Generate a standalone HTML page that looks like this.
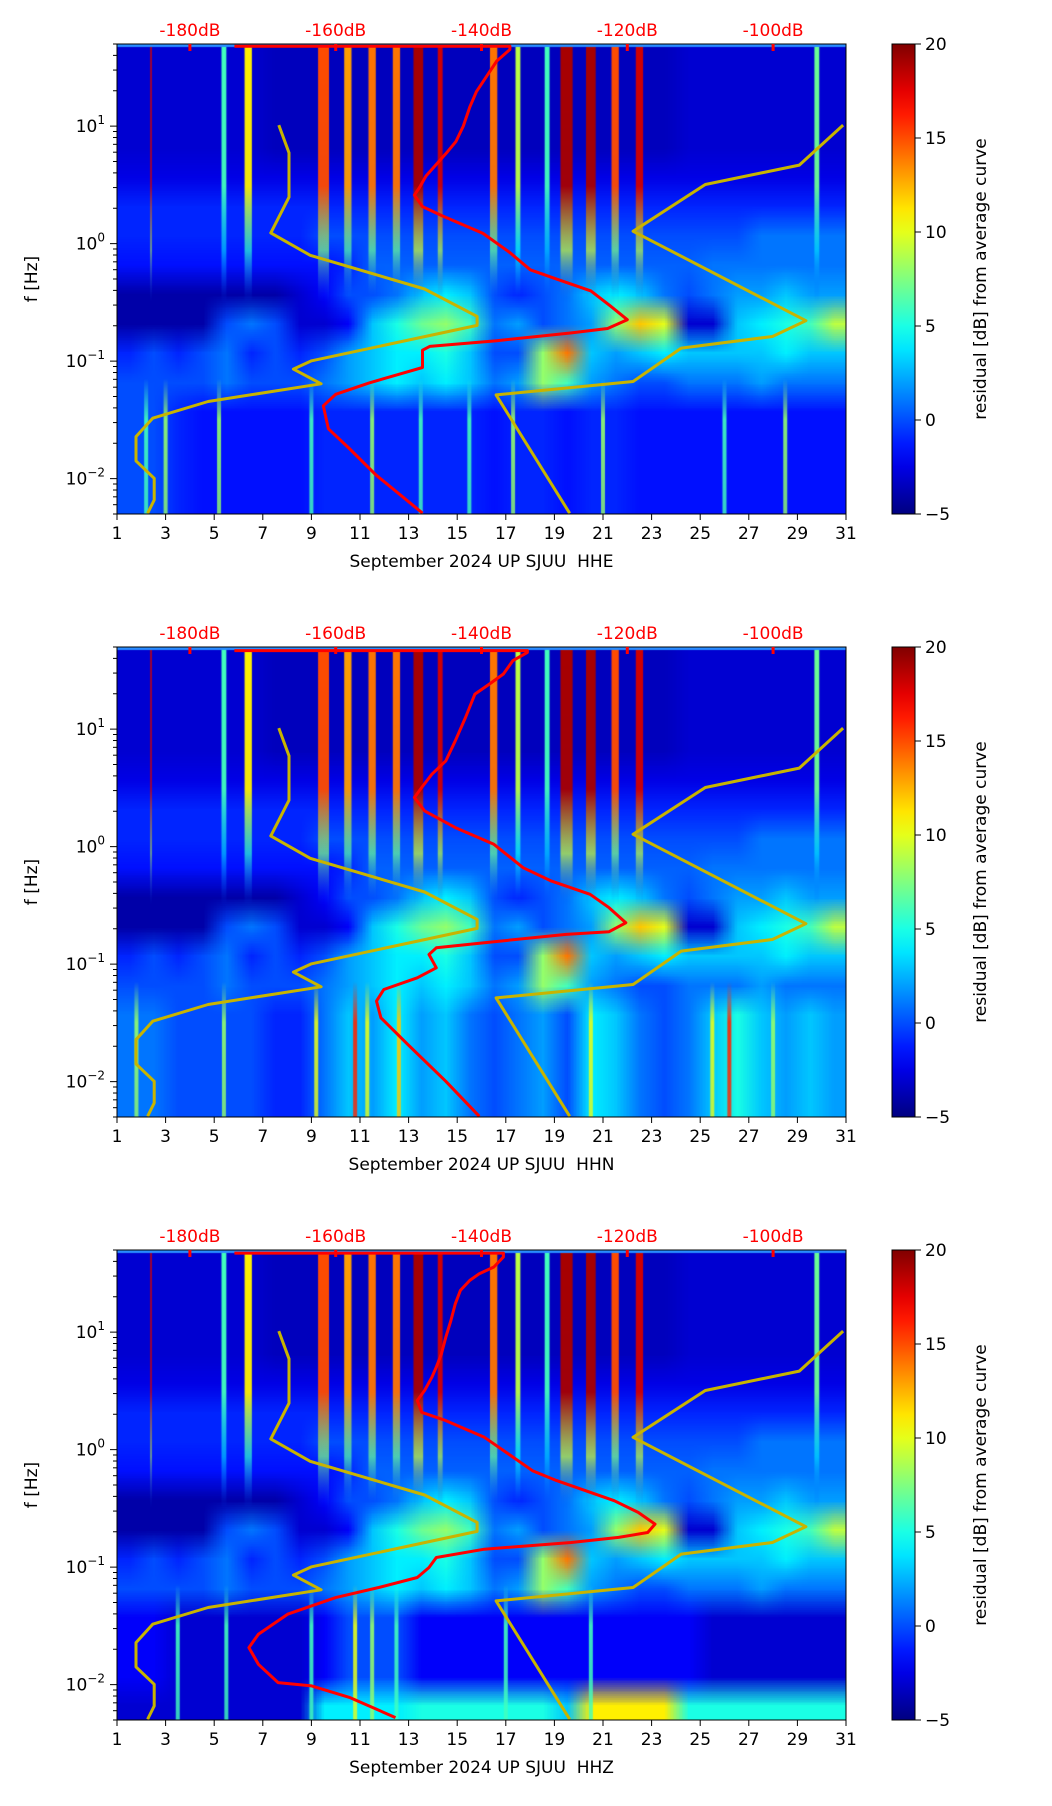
<!DOCTYPE html>
<html><head><meta charset="utf-8">
<style>
html,body{margin:0;padding:0;background:#fff;}
body{width:1052px;height:1806px;position:relative;overflow:hidden;font-family:"DejaVu Sans","Liberation Sans",sans-serif;}
.panel{position:absolute;left:0;width:1052px;height:603px;}
canvas{position:absolute;}
svg{position:absolute;left:0;top:0;}
svg text{font-family:"DejaVu Sans","Liberation Sans",sans-serif;white-space:pre;}
</style></head>
<body>
<div id="root"></div>
<script>
// ---- Data ----
const nlnmDb=[-167.8,-166.4,-166.4,-168.9,-163.5,-147.8,-140.6,-140.6,-163.3,-165.8,-162.0,-177.5,-185.1,-187.4,-187.4,-184.9,-184.9,-185.8];
const nlnmLogF=[1.009,0.773,0.395,0.091,-0.099,-0.386,-0.619,-0.696,-0.997,-1.068,-1.193,-1.344,-1.486,-1.642,-1.849,-1.997,-2.182,-2.295];
const nhnmDb=[-90.4,-96.4,-109.3,-119.2,-95.5,-100.1,-112.6,-119.2,-138.0,-127.9];
const nhnmLogF=[1.009,0.668,0.503,0.105,-0.656,-0.790,-0.889,-1.173,-1.287,-2.295];

const red1Db=[-173.9,-136.1,-136.1,-137.9,-139.3,-140.7,-141.6,-142.5,-143.5,-144.8,-146.2,-147.6,-148.5,-149.2,-148.1,-145.3,-139.8,-136.1,-133.3,-129.6,-125.0,-122.3,-120.0,-122.7,-127.8,-137.9,-147.1,-148.1,-148.1,-150.8,-155.4,-160.0,-161.7,-161.0,-158.2,-154.5,-148.1];
const red1LogF=[1.68,1.68,1.652,1.554,1.424,1.293,1.163,1.0,0.870,0.772,0.674,0.576,0.478,0.413,0.315,0.234,0.087,-0.076,-0.223,-0.304,-0.402,-0.532,-0.647,-0.722,-0.761,-0.826,-0.875,-0.907,-1.054,-1.103,-1.185,-1.282,-1.380,-1.576,-1.739,-1.967,-2.293];
const red2Db=[-173.9,-133.7,-133.7,-135.7,-137.0,-138.9,-140.9,-142.2,-143.6,-144.9,-146.8,-148.2,-149.2,-147.8,-143.6,-138.3,-134.3,-130.4,-125.1,-122.5,-120.2,-122.5,-128.4,-139.6,-146.2,-147.2,-146.2,-148.8,-153.4,-154.4,-153.8,-150.1,-144.9,-140.3];
const red2LogF=[1.668,1.668,1.653,1.582,1.469,1.384,1.298,1.099,0.901,0.730,0.616,0.503,0.418,0.304,0.162,0.020,-0.179,-0.293,-0.406,-0.520,-0.648,-0.724,-0.747,-0.818,-0.861,-0.918,-1.031,-1.116,-1.216,-1.315,-1.457,-1.685,-1.997,-2.295];
const red3Db=[-173.9,-137.0,-137.0,-138.3,-140.3,-141.6,-142.9,-143.6,-144.2,-144.9,-145.5,-146.2,-146.8,-147.8,-148.8,-148.2,-144.9,-139.6,-136.3,-133.0,-129.7,-121.8,-118.5,-116.2,-117.2,-121.2,-127.7,-139.6,-146.2,-147.2,-148.8,-154.1,-160.0,-166.6,-170.6,-171.9,-170.6,-167.9,-163.3,-158.0,-151.8];
const red3LogF=[1.673,1.673,1.639,1.554,1.497,1.440,1.355,1.241,1.099,0.957,0.815,0.702,0.616,0.503,0.418,0.318,0.247,0.105,-0.037,-0.179,-0.264,-0.435,-0.534,-0.634,-0.705,-0.747,-0.790,-0.847,-0.918,-1.003,-1.088,-1.173,-1.259,-1.401,-1.571,-1.685,-1.827,-1.983,-2.011,-2.111,-2.281];

// heatmap rows (top 50 Hz -> bottom 0.005 Hz), 16 rows x 30 days, dB residual
const rowTop=[-3,-3,-3,-3,-3,-3,-3.5,-3.5,-3.5,-3.5,-3.5,-3.5,-3.5,-3.5,-3.5,-3.5,-3.5,-3.5,-3.5,-3.5,-3.5,-3.5,-3.5,-3,-3,-3,-3,-3,-3,-3];
const row4=[-2.5,-2.5,-2.5,-2.5,-2.5,-2.5,-2.5,-2.5,-2.5,-2.5,-2.5,-2.5,-2.5,-2.5,-2.5,-2.5,-2.5,-2.5,-2.5,-2.5,-2.5,-2.5,-2.5,-2.5,-2.5,-2.5,-2.5,-2.5,-2.5,-2.5];
const row5=[-1,-1,-1,-1,-1,-1,-1,-1,-1,-1,-1,-1,-1,-1,-1,-1,-1,-1,-1,-1,-1,-1,-1,-1,-1,-1,-1,-1,-1,-1];
const row6=[-1,-1,-1,-1,-1,-1,-1,-1,0,0,0,0,0,0,0,0,0,0,0,0,0,0,0,0,0,0,1,1,1,1];
const row7=[-1.5,-1.5,-1.5,-1.5,-1.5,-1.5,-1.5,-1.5,-1.5,-1,0.5,0.5,0.5,0.5,0.5,0.5,0.5,0.5,0.5,0.5,0.5,0.5,0.5,0.5,1,1,1,1,1,1];
const row8=[-4,-4,-4,-4,-4,-4,-4,-3,-2,0,0,1,3,4,3,0,-1,0,1,3,4,3,1,0,1,2,2,3,2,2];
const row9=[-4,-4,-4,-4,0,1,0,-3,-3,-2,3,5,7,8,6,1,2,0,1,2,8,12,10,-3,-3,3,4,5,6,9];
const row10=[-1,0,-1,0,1,-1,0,-1,0,2,3,4,4,5,3,0,0,8,14,3,2,3,4,3,3,3,3,4,3,3];
const row11=[0,0,0,0,1,0,0,0,1,2,3,4,3,4,3,1,2,8,6,2,1,0,0,1,1,1,2,1,1,1];
const lowHHE=[0,0,-1,-1.5,-1.5,-1.5,-1.5,-1.5,-1,-1,-1,-1,-1,-1,-1,-1.5,-1,-1,-1.5,-1,-1,-1.5,-1.5,-1.5,-1.5,-1.5,-1.5,-1.5,-1.5,-1.5];
const lowHHN=[1,1,0,0,0,0,-1,-1,1,3,2,4,2,3,1,0,1,2,0,4,3,1,0,1,3,5,3,2,3,2];
const lowHHZ=[-2,-2,-3,-3,-3,-3,-3,-3,-2,0,0,0,-2,-2,-2,-2,-2,-2,-2,-2,-2,-2,-2,-2,-3,-3,-3,-3,-3,-3];
const bottomHHZ=[-3,-3,-3,-3,-3,-3,-3,-3,4,4,4,4,5,5,5,5,5,5,3,11,11,11,11,5,5,5,5,5,5,5];

// streaks: day, width(days), value  (high-frequency band, shared)
const hiStreakDay=[2.4,5.4,6.4,9.5,10.5,11.5,12.5,13.4,14.3,16.5,17.5,18.7,19.5,20.5,21.5,22.5,29.8];
const hiStreakW=[0.06,0.2,0.3,0.45,0.3,0.3,0.3,0.4,0.2,0.3,0.2,0.2,0.5,0.4,0.3,0.3,0.2];
const hiStreakVal=[18,6,11,15,13,14,14,19,18,14,9,6,19,19,15,18,7];
// low-frequency streaks per panel
const loDay1=[2.2,3.0,5.2,9.0,11.5,13.5,15.5,17.3,21.0,26.0,28.5];
const loVal1=[6,8,8,6,8,6,6,8,8,6,8];
const loDay2=[1.8,5.4,9.2,10.8,11.3,12.6,20.5,25.5,26.2,28.0];
const loVal2=[8,8,10,16,10,12,10,10,16,8];
const loDay3=[3.5,5.5,9.0,10.8,11.5,12.5,17.0,20.5];
const loVal3=[6,6,6,10,8,6,6,6];

const xTicks=[1,3,5,7,9,11,13,15,17,19,21,23,25,27,29,31];
const dbTicks=[-180,-160,-140,-120,-100];
const cbTicks=[-5,0,5,10,15,20];
const panelTops=[44,647,1250];
const chanNames=["HHE","HHN","HHZ"];

// ---- helpers ----
const L=117,PW=729,PH=470,LOGTOP=Math.log10(50),LOGBOT=Math.log10(0.005);
const xDay=d=>L+(d-1)/30*PW;
const cDay=d=>(d-1)/30*PW;
const xDb=db=>L+(db+190)/100*PW;
const yF=lf=>(LOGTOP-lf)/(LOGTOP-LOGBOT)*PH;
function jet(v){let t=Math.max(0,Math.min(1,(v+5)/25));const c=a=>Math.round(255*Math.max(0,Math.min(1,1.5-Math.abs(4*t-a))));return [c(3),c(2),c(1)];}
const NS="http://www.w3.org/2000/svg";
function mk(tag,attrs,parent){const e=document.createElementNS(NS,tag);for(const k in attrs)e.setAttribute(k,attrs[k]);parent.appendChild(e);return e;}
const root=document.getElementById('root');
const FS=17;

function buildPanel(p){
  const top=panelTops[p];
  const div=document.createElement('div');div.className='panel';div.style.top='0px';div.style.height='1806px';
  
  
  root.appendChild(div);
  const cv=document.createElement('canvas');cv.width=PW;cv.height=PH;cv.style.left=L+'px';cv.style.top=top+'px';
  
  
  div.appendChild(cv);
  const ctx=cv.getContext('2d');
  const low=[lowHHE,lowHHN,lowHHZ][p];
  const rows=[rowTop,rowTop,rowTop,rowTop,row4,row5,row6,row7,row8,row9,row10,row11,low,low,low,p===2?bottomHHZ:low];
  const sm=document.createElement('canvas');sm.width=30;sm.height=16;const sc=sm.getContext('2d');
  const img=sc.createImageData(30,16);
  rows.forEach((r,i)=>r.forEach((v,j)=>{const c=jet(v);const o=(i*30+j)*4;img.data[o]=c[0];img.data[o+1]=c[1];img.data[o+2]=c[2];img.data[o+3]=255;}));
  sc.putImageData(img,0,0);
  ctx.imageSmoothingEnabled=true;ctx.drawImage(sm,0,0,PW,PH);
  const y0=0,y1=yF(-0.5);
  hiStreakDay.forEach((d,i)=>{
    const v=hiStreakVal[i],w=Math.max(1.5,hiStreakW[i]/30*PW),x=cDay(d)-w/2;
    const g=ctx.createLinearGradient(0,y0,0,y1);const c=jet(v),c2=jet(v*0.5),c3=jet(0);
    g.addColorStop(0,`rgba(${c},1)`);g.addColorStop(0.55,`rgba(${c},0.95)`);g.addColorStop(0.8,`rgba(${c2},0.7)`);g.addColorStop(1,`rgba(${c3},0)`);
    ctx.fillStyle=g;ctx.fillRect(x,y0,w,y1-y0);
  });
  const ld=[loDay1,loDay2,loDay3][p],lv=[loVal1,loVal2,loVal3][p];
  const ly0=yF(-1.15),ly1=PH;
  ld.forEach((d,i)=>{
    const v=lv[i],w=4,x=cDay(d)-w/2;const c=jet(v);
    const g=ctx.createLinearGradient(0,ly0,0,ly1);
    g.addColorStop(0,`rgba(${c},0)`);g.addColorStop(0.3,`rgba(${c},0.9)`);g.addColorStop(1,`rgba(${c},0.8)`);
    ctx.fillStyle=g;ctx.fillRect(x,ly0,w,ly1-ly0);
  });
  ctx.fillStyle='rgb(40,140,255)';ctx.fillRect(0,0,PW,3);

  const svg=mk('svg',{width:1052,height:1806},div);
  
  
  const g=mk('g',{transform:`translate(0,${top})`},svg);
  const line=(dbs,lfs,col,w,name)=>{
    const d=dbs.map((v,i)=>(i?'L':'M')+xDb(v).toFixed(1)+','+yF(lfs[i]).toFixed(1)).join('');
    const pth=mk('path',{d:d,fill:'none',stroke:col,'stroke-width':w,'stroke-linejoin':'round'},g);
    
    
  };
  line(nlnmDb,nlnmLogF,'#c8b400',3,'nlnm-curve');
  line(nhnmDb,nhnmLogF,'#c8b400',3,'nhnm-curve');
  line([red1Db,red2Db,red3Db][p],[red1LogF,red2LogF,red3LogF][p],'#ff0000',3,'median-psd-curve');
  const fr=mk('rect',{x:L,y:0,width:PW,height:PH,fill:'none',stroke:'#000','stroke-width':1},g);
  
  
  xTicks.forEach(t=>{
    const x=xDay(t);
    mk('line',{x1:x,x2:x,y1:PH,y2:PH+6,stroke:'#000','stroke-width':1},g);
    const tx=mk('text',{x:x,y:PH+25,'font-size':FS,'text-anchor':'middle',fill:'#000'},g);tx.textContent=t;
    
    
  });
  const xt=mk('text',{x:L+PW/2,y:PH+53,'font-size':FS,'text-anchor':'middle',fill:'#000'},g);
  xt.textContent='September 2024 UP SJUU  '+chanNames[p];
  
  
  for(let dec=-3;dec<=1;dec++){for(let m=1;m<10;m++){const lf=dec+Math.log10(m);if(lf<LOGBOT-1e-6||lf>LOGTOP+1e-6)continue;const y=yF(lf);
    mk('line',{x1:L,x2:L-(m===1?7:4),y1:y,y2:y,stroke:'#000','stroke-width':1},g);
    if(m===1){const t=mk('text',{x:L-12,y:y+6,'font-size':FS,'text-anchor':'end',fill:'#000'},g);
      
      
      t.textContent='10';const s=mk('tspan',{dy:-8,'font-size':12},t);s.textContent=dec<0?'\u2212'+(-dec):dec;}}}
  const yt=mk('text',{x:0,y:0,'font-size':FS,'text-anchor':'middle',fill:'#000',transform:`translate(37,${PH/2}) rotate(-90)`},g);
  yt.textContent='f [Hz]';
  
  
  dbTicks.forEach(db=>{const x=xDb(db);
    mk('line',{x1:x,x2:x,y1:0,y2:7,stroke:'#ff0000','stroke-width':3},g);
    const t=mk('text',{x:x,y:-8,'font-size':FS,'text-anchor':'middle',fill:'#ff0000'},g);t.textContent=db+'dB';
    
    
  });
  const cbx=892,cbw=23;
  const defs=mk('defs',{},g);const lg=mk('linearGradient',{id:'jet'+p,x1:0,y1:1,x2:0,y2:0},defs);
  for(let i=0;i<=20;i++){const c=jet(-5+25*i/20);mk('stop',{offset:i/20,'stop-color':`rgb(${c})`},lg);}
  const cb=mk('rect',{x:cbx,y:0,width:cbw,height:PH,fill:`url(#jet${p})`,stroke:'#000','stroke-width':1},g);
  
  
  cbTicks.forEach(v=>{const y=PH-(v+5)/25*PH;
    mk('line',{x1:cbx+cbw,x2:cbx+cbw+6,y1:y,y2:y,stroke:'#000'},g);
    const t=mk('text',{x:cbx+cbw+10,y:y+6,'font-size':FS,fill:'#000'},g);t.textContent=v<0?'\u2212'+(-v):v;
    
    
  });
  const cl=mk('text',{x:0,y:0,'font-size':FS,'text-anchor':'middle',fill:'#000',transform:`translate(986,${PH/2}) rotate(-90)`},g);
  cl.textContent='residual [dB] from average curve';
  
  
}
[0,1,2].forEach(buildPanel);
</script>
</body></html>
